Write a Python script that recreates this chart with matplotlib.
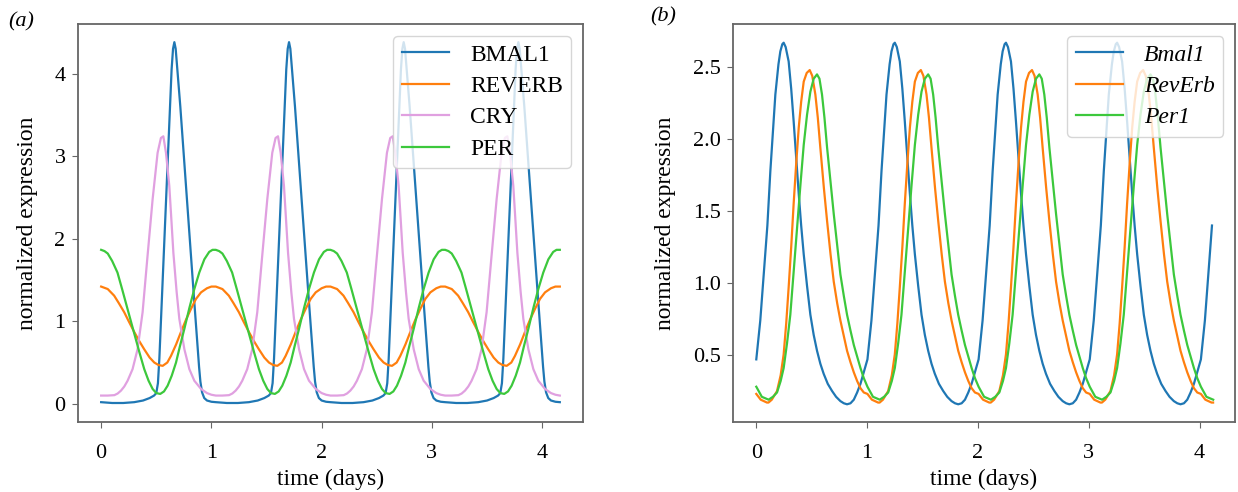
import numpy as np
import matplotlib
matplotlib.use("Agg")
import matplotlib.pyplot as plt

# one period of each limit cycle (phase in days, value)
# panel (a): period ~1.04 d, runs to 4.17 d
period_a = 1.04
t_end_a = 4.17

bmal1_phase = [0.00, 0.10, 0.20, 0.30, 0.38, 0.44, 0.48, 0.50, 0.515, 0.528, 0.542,
               0.567, 0.591, 0.615, 0.639, 0.652, 0.664, 0.676, 0.694, 0.718, 0.742,
               0.767, 0.791, 0.815, 0.839, 0.864, 0.888, 0.90, 0.915, 0.935, 0.96, 1.00]
bmal1_vals = [0.02, 0.01, 0.01, 0.02, 0.04, 0.07, 0.10, 0.13, 0.25, 0.55, 0.99,
              1.77, 2.54, 3.31, 4.05, 4.30, 4.38, 4.30, 4.00, 3.60, 3.15,
              2.69, 2.24, 1.79, 1.34, 0.89, 0.45, 0.27, 0.14, 0.07, 0.04, 0.025]

cry_phase = [0.00, 0.06, 0.12, 0.15, 0.18, 0.21, 0.24, 0.285, 0.33, 0.376, 0.418, 0.467,
             0.512, 0.542, 0.564, 0.588, 0.618, 0.636, 0.655, 0.685, 0.709, 0.755,
             0.80, 0.845, 0.906, 0.96, 1.00]
cry_vals = [0.10, 0.10, 0.105, 0.125, 0.16, 0.21, 0.28, 0.42, 0.66, 1.11, 1.75, 2.48,
            3.04, 3.22, 3.24, 3.04, 2.64, 2.25, 1.83, 1.35, 1.03, 0.66,
            0.42, 0.28, 0.18, 0.13, 0.11]

reverb_phase = [0.00, 0.06, 0.118, 0.16, 0.209, 0.25, 0.30, 0.35, 0.391, 0.44, 0.482,
                0.52, 0.558, 0.60, 0.633, 0.68, 0.724, 0.77, 0.815, 0.86, 0.906,
                0.96, 1.00]
reverb_vals = [1.42, 1.39, 1.31, 1.22, 1.11, 1.00, 0.87, 0.75, 0.66, 0.56, 0.50,
               0.47, 0.46, 0.50, 0.58, 0.72, 0.87, 1.02, 1.15, 1.27, 1.35,
               1.40, 1.42]

per_phase = [0.00, 0.03, 0.06, 0.10, 0.148, 0.19, 0.239, 0.28, 0.315, 0.35, 0.391,
             0.43, 0.467, 0.50, 0.536, 0.57, 0.603, 0.64, 0.679, 0.715, 0.755,
             0.80, 0.845, 0.89, 0.936, 0.98, 1.01]
per_vals = [1.865, 1.85, 1.82, 1.73, 1.59, 1.39, 1.15, 0.95, 0.78, 0.61, 0.42,
            0.28, 0.18, 0.13, 0.12, 0.15, 0.22, 0.34, 0.50, 0.70, 0.91,
            1.16, 1.39, 1.59, 1.75, 1.84, 1.865]

# panel (b): period ~1.003 d, runs to ~4.12 d
period_b = 1.003
t_end_b = 4.125

bmal1_b_phase = [0.00, 0.036, 0.081, 0.10, 0.127, 0.172, 0.20, 0.217, 0.235, 0.247, 0.265,
                 0.292, 0.315, 0.337, 0.36, 0.383, 0.405, 0.428, 0.458, 0.488, 0.518,
                 0.548, 0.578, 0.608, 0.645, 0.684, 0.72, 0.759, 0.79, 0.819, 0.85,
                 0.88, 0.91, 0.94, 0.97]
bmal1_b_vals = [0.47, 0.74, 1.20, 1.40, 1.78, 2.31, 2.52, 2.61, 2.66, 2.67, 2.64,
                2.54, 2.35, 2.125, 1.87, 1.62, 1.40, 1.20, 0.98, 0.78, 0.64,
                0.53, 0.44, 0.37, 0.30, 0.25, 0.21, 0.18, 0.165, 0.158, 0.165,
                0.19, 0.24, 0.30, 0.38]

reverb_b_phase = [0.00, 0.04, 0.096, 0.11, 0.14, 0.187, 0.22, 0.247, 0.27, 0.292, 0.315,
                  0.337, 0.36, 0.383, 0.405, 0.428, 0.455, 0.482, 0.505, 0.533, 0.555,
                  0.578, 0.61, 0.639, 0.67, 0.699, 0.73, 0.759, 0.79, 0.819, 0.85,
                  0.88, 0.91, 0.94, 0.97]
reverb_b_vals = [0.23, 0.19, 0.17, 0.17, 0.19, 0.25, 0.36, 0.505, 0.72, 0.97, 1.25,
                 1.55, 1.83, 2.08, 2.26, 2.40, 2.46, 2.48, 2.44, 2.31, 2.15,
                 1.94, 1.66, 1.43, 1.20, 1.01, 0.86, 0.74, 0.63, 0.53, 0.45,
                 0.38, 0.32, 0.27, 0.24]

per1_b_phase = [0.00, 0.05, 0.111, 0.15, 0.187, 0.22, 0.247, 0.277, 0.307, 0.337,
                0.367, 0.398, 0.428, 0.458, 0.488, 0.518, 0.548, 0.57, 0.593, 0.615,
                0.639, 0.67, 0.699, 0.73, 0.759, 0.79, 0.819, 0.85, 0.88, 0.91,
                0.94, 0.97]
per1_b_vals = [0.28, 0.21, 0.19, 0.21, 0.24, 0.32, 0.41, 0.58, 0.78, 1.08,
               1.38, 1.68, 1.96, 2.17, 2.33, 2.42, 2.45, 2.42, 2.31, 2.15,
               1.94, 1.70, 1.48, 1.26, 1.06, 0.91, 0.78, 0.67, 0.57, 0.49,
               0.41, 0.34]


def repeat_cycle(phase, vals, period, t_end):
    """Lay the read-off period end to end until t_end"""
    phase = np.asarray(phase)
    n = int(np.ceil(t_end / period)) + 1
    t = np.concatenate([phase + k * period for k in range(n)])
    v = np.tile(vals, n)
    keep = t <= t_end + 1e-9
    return t[keep], v[keep]


plt.rcParams['font.family'] = ['Liberation Serif', 'DejaVu Serif']

fig = plt.figure(figsize=(12.38, 4.92), dpi=100)
ax1 = fig.add_axes([0.0630, 0.1423, 0.4079, 0.8089])
ax2 = fig.add_axes([0.5921, 0.1423, 0.4055, 0.8089])

lw = 1.6
ax1.plot(*repeat_cycle(bmal1_phase, bmal1_vals, period_a, t_end_a), color='#1f77b4', lw=lw, label='BMAL1')
ax1.plot(*repeat_cycle(reverb_phase, reverb_vals, period_a, t_end_a), color='#ff7f0e', lw=lw, label='REVERB')
ax1.plot(*repeat_cycle(cry_phase, cry_vals, period_a, t_end_a), color='#e0a0e0', lw=lw, label='CRY')
ax1.plot(*repeat_cycle(per_phase, per_vals, period_a, t_end_a), color='#3cc83c', lw=lw, label='PER')

ax2.plot(*repeat_cycle(bmal1_b_phase, bmal1_b_vals, period_b, t_end_b), color='#1f77b4', lw=lw, label='Bmal1')
ax2.plot(*repeat_cycle(reverb_b_phase, reverb_b_vals, period_b, t_end_b), color='#ff7f0e', lw=lw, label='RevErb')
ax2.plot(*repeat_cycle(per1_b_phase, per1_b_vals, period_b, t_end_b), color='#3cc83c', lw=lw, label='Per1')

ax1.set_xlim(-0.21, 4.37)
ax1.set_ylim(-0.22, 4.60)
ax1.set_yticks([0, 1, 2, 3, 4])
ax2.set_xlim(-0.21, 4.32)
ax2.set_ylim(0.035, 2.80)
ax2.set_yticks([0.5, 1.0, 1.5, 2.0, 2.5])

for ax in (ax1, ax2):
    ax.set_xticks([0, 1, 2, 3, 4])
    ax.set_xlabel('time (days)', fontsize=17, labelpad=4)
    ax.set_ylabel('normalized expression', fontsize=17, labelpad=12)
    ax.tick_params(labelsize=16, color='#666666', length=4)
    ax.tick_params(axis='x', pad=12)
    ax.tick_params(axis='y', pad=5)
    for s in ax.spines.values():
        s.set_color('#666666')
        s.set_linewidth(1.3)

ax1.legend(loc='upper right', prop={'size': 17}, labelspacing=0.42,
           borderpad=0.35, handletextpad=0.9)
ax2.legend(loc='upper right', prop={'style': 'italic', 'size': 17}, labelspacing=0.42,
           borderpad=0.35, handletextpad=0.9)

fig.text(0.007, 0.955, '(a)', fontsize=16, style='italic', va='center')
fig.text(0.525, 0.965, '(b)', fontsize=16, style='italic', va='center')

fig.savefig('out.png', dpi=100)
